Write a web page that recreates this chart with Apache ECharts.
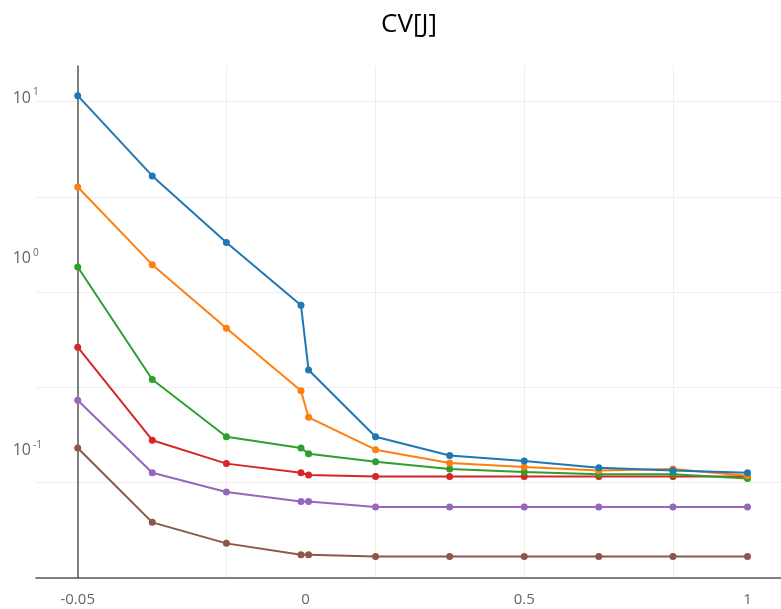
<!DOCTYPE html>
<html>
<head>
  <meta charset="utf-8">
  <style>
    html, body { margin: 0; padding: 0; width: 100%; height: 100%; background: #fff; overflow: hidden; }
  </style>
  <script src="https://cdn.jsdelivr.net/npm/echarts@6/dist/echarts.min.js"></script>
</head>
<body>
  <div id="container" style="width: 781px; height: 609px;"></div>
  <script>
    // x positions of the points
    var xValues = [-0.5, -0.333, -0.167, 0, 0.017, 0.167, 0.333, 0.5, 0.667, 0.833, 1];

    var blue   = [10.75, 4.07, 1.82, 0.851, 0.388, 0.173, 0.138, 0.129, 0.119, 0.115, 0.112];
    var orange = [3.56, 1.39, 0.644, 0.302, 0.219, 0.148, 0.126, 0.120, 0.115, 0.117, 0.108];
    var green  = [1.35, 0.346, 0.173, 0.151, 0.141, 0.128, 0.117, 0.113, 0.110, 0.110, 0.1045];
    var red    = [0.512, 0.166, 0.125, 0.112, 0.109, 0.107, 0.107, 0.107, 0.107, 0.107, 0.107];
    var purple = [0.269, 0.112, 0.0886, 0.0791, 0.0791, 0.0739, 0.0739, 0.0739, 0.0739, 0.0739, 0.0739];
    var brown  = [0.151, 0.0614, 0.0476, 0.0415, 0.0415, 0.0406, 0.0406, 0.0406, 0.0406, 0.0406, 0.0406];

    // tick labels as they appear
    var xTickVals = [-0.5, 0.01, 0.5, 1];
    var xTickText = ['-0.05', '0', '0.5', '1'];
    var xGridVals = [-0.167, 0.167, 0.5, 0.833];

    var yTickVals = [10.46, 1.49, 0.146];
    var yTickExp = ['1', '0', '-1'];
    var yGridVals = [10, 3.162, 1, 0.3162, 0.1];

    var colors = ['#1f77b4', '#ff7f0e', '#2ca02c', '#d62728', '#9467bd', '#8c564b'];
    var seriesData = [blue, orange, green, red, purple, brown];

    function closest(vals, v) {
      var best = 0;
      for (var i = 1; i < vals.length; i++) {
        if (Math.abs(Math.log(vals[i]) - Math.log(v)) < Math.abs(Math.log(vals[best]) - Math.log(v))) best = i;
      }
      return best;
    }

    var chart = echarts.init(document.getElementById('container'), null, { renderer: 'canvas' });

    var series = seriesData.map(function (arr, k) {
      return {
        name: 'trace ' + k,
        type: 'line',
        data: arr.map(function (v, i) { return [xValues[i], v]; }),
        symbol: 'circle',
        symbolSize: 7,
        lineStyle: { width: 2, color: colors[k] },
        itemStyle: { color: colors[k] },
        z: 10 - k
      };
    });

    var option = {
      animation: false,
      backgroundColor: '#fff',
      title: {
        text: 'CV[J]',
        left: 404,
        top: 7,
        textAlign: 'center',
        textStyle: { fontFamily: 'Open Sans', fontSize: 26, fontWeight: 'normal', color: '#000' }
      },
      grid: { left: 36, right: 0, top: 66, bottom: 31 },
      xAxis: {
        type: 'value',
        min: -0.5934,
        max: 1.075,
        axisLine: { onZero: false, lineStyle: { color: '#555', width: 1.5 } },
        axisTick: { show: false, customValues: xGridVals },
        splitLine: { show: true, lineStyle: { color: '#eee', width: 1 } },
        axisLabel: {
          customValues: xTickVals,
          margin: 14,
          color: '#666',
          fontFamily: 'Open Sans',
          fontSize: 15,
          formatter: function (v) {
            var best = 0;
            for (var i = 1; i < xTickVals.length; i++) {
              if (Math.abs(xTickVals[i] - v) < Math.abs(xTickVals[best] - v)) best = i;
            }
            return xTickText[best];
          }
        }
      },
      yAxis: {
        type: 'log',
        logBase: 10,
        min: 0.0313,
        max: 15.4,
        offset: -41.7,
        axisLine: { show: true, onZero: false, lineStyle: { color: '#555', width: 1.5 } },
        axisTick: { show: false, customValues: yGridVals },
        splitLine: { show: true, lineStyle: { color: '#eee', width: 1 } },
        axisLabel: {
          customValues: yTickVals,
          align: 'left',
          margin: 65,
          color: '#666',
          fontFamily: 'Open Sans',
          formatter: function (v) {
            return '{b|10}{s|' + yTickExp[closest(yTickVals, v)] + '}';
          },
          rich: {
            b: { fontSize: 16, fontFamily: 'Open Sans', color: '#666' },
            s: { fontSize: 10, fontFamily: 'Open Sans', color: '#666', padding: [0, 0, 12, 2] }
          }
        }
      },
      series: series
    };

    chart.setOption(option);
  </script>
</body>
</html>
